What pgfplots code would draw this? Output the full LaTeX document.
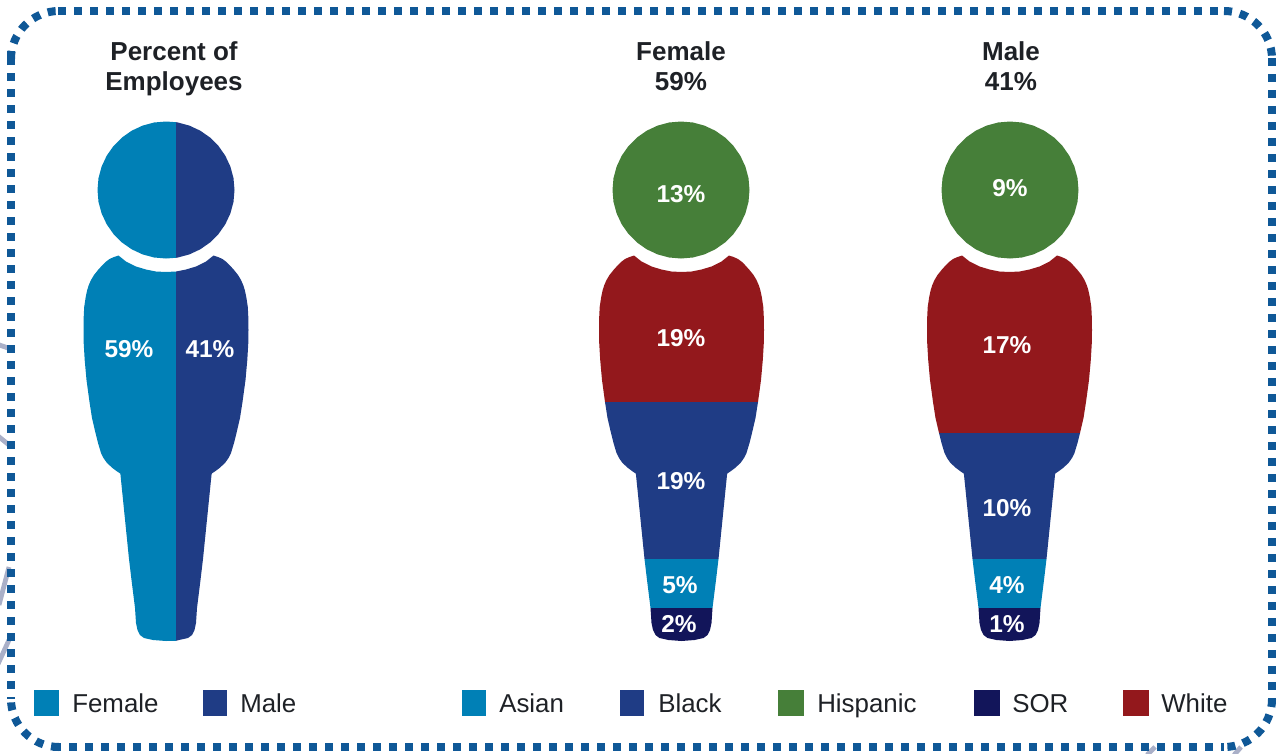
\documentclass[border=0pt]{standalone}
\usepackage{pgfplots}
\usepackage{pgfplotstable}
\usepackage{fontspec}
\setmainfont{Liberation Sans}
\pgfplotsset{compat=1.18}
\definecolor{cAsian}{HTML}{0080B6}
\definecolor{cBlack}{HTML}{1F3C85}
\definecolor{cHisp}{HTML}{467F39}
\definecolor{cSOR}{HTML}{12155A}
\definecolor{cWhite}{HTML}{93181C}
\definecolor{cFrame}{HTML}{0F5897}
\definecolor{cStub}{HTML}{AAB0C8}
\definecolor{cText}{HTML}{1E2126}
\tikzset{
  val/.style={font=\fontsize{18.3}{20}\selectfont\bfseries,text=white,inner sep=0pt},
  ttl/.style={font=\fontsize{19.5}{22}\selectfont\bfseries,text=cText,inner sep=0pt,anchor=base},
  leg/.style={font=\fontsize{19.4}{22}\selectfont,text=cText,inner sep=0pt,anchor=base west},
  frm/.style={cFrame,line width=6pt,dash pattern=on 6pt off 6pt},
}
\pgfplotstableread{
h y
10 -67.8
0 -68.5
-11.9 -67.5
-23.4 -64.4
-34.3 -59.3
-44.0 -52.5
-52.5 -44.0
-59.3 -34.3
-64.4 -23.4
-67.5 -11.9
-68.5 0
-67.5 11.9
-64.4 23.4
-59.3 34.3
-52.5 44.0
-44.0 52.5
-34.3 59.3
-23.4 64.4
-11.9 67.5
0 68.5
10 67.8
}\headL
\pgfplotstableread{
h y
10 -67.8
11.9 -67.5
23.4 -64.4
34.3 -59.3
44.0 -52.5
52.5 -44.0
59.3 -34.3
64.4 -23.4
67.5 -11.9
68.5 0
67.5 11.9
64.4 23.4
59.3 34.3
52.5 44.0
44.0 52.5
34.3 59.3
23.4 64.4
11.9 67.5
10 67.8
}\headR
\pgfplotstableread{
h y
10 271.5
0 272
-10 271.5
-20 269.5
-30 266.5
-40 261.5
-47.5 255.5
-52 257
-56.5 259
-60.5 262
-63.5 265
-68 270
-72 275
-75 280
-77.2 285
-78.8 290
-80.3 297
-81.8 307
-82.3 317
-82.5 330
-82.3 343
-81.3 360
-79.5 380
-76.5 402
-74 418
-70.5 433
-68 443
-65 453
-62.5 458
-59 463
-53.5 468
-49.5 471
-45.8 473.5
-45.5 475
-37 559
-34.5 580
-31 608
-30 623
-28.5 630
-26 635
-22 638
-13 640
0 641
10 640.8
}\bodyL
\pgfplotstableread{
h y
10 271.5
20 269.5
30 266.5
40 261.5
47.5 255.5
52 257
56.5 259
60.5 262
63.5 265
68 270
72 275
75 280
77.2 285
78.8 290
80.3 297
81.8 307
82.3 317
82.5 330
82.3 343
81.3 360
79.5 380
76.5 402
74 418
70.5 433
68 443
65 453
62.5 458
59 463
53.5 468
49.5 471
45.8 473.5
45.5 475
37 559
34.5 580
31 608
30 623
28.5 630
26 635
22 638
13 640
10 640.8
}\bodyR
\pgfplotstableread{
h y
-47.5 255.5
-40 261.5
-30 266.5
-20 269.5
-10 271.5
0 272
10 271.5
20 269.5
30 266.5
40 261.5
47.5 255.5
52 257
56.5 259
60.5 262
63.5 265
68 270
72 275
75 280
77.2 285
78.8 290
80.3 297
81.8 307
82.3 317
82.5 330
82.3 343
81.3 360
79.5 380
76.5 402
-76.5 402
-79.5 380
-81.3 360
-82.3 343
-82.5 330
-82.3 317
-81.8 307
-80.3 297
-78.8 290
-77.2 285
-75 280
-72 275
-68 270
-63.5 265
-60.5 262
-56.5 259
-52 257
}\whiteF
\pgfplotstableread{
h y
-76.5 402
76.5 402
74 418
70.5 433
68 443
65 453
62.5 458
59 463
53.5 468
49.5 471
45.8 473.5
45.5 475
37 559
-37 559
-45.5 475
-45.8 473.5
-49.5 471
-53.5 468
-59 463
-62.5 458
-65 453
-68 443
-70.5 433
-74 418
}\blackF
\pgfplotstableread{
h y
-47.5 255.5
-40 261.5
-30 266.5
-20 269.5
-10 271.5
0 272
10 271.5
20 269.5
30 266.5
40 261.5
47.5 255.5
52 257
56.5 259
60.5 262
63.5 265
68 270
72 275
75 280
77.2 285
78.8 290
80.3 297
81.8 307
82.3 317
82.5 330
82.3 343
81.3 360
79.5 380
76.5 402
74 418
70.5 433
-70.5 433
-74 418
-76.5 402
-79.5 380
-81.3 360
-82.3 343
-82.5 330
-82.3 317
-81.8 307
-80.3 297
-78.8 290
-77.2 285
-75 280
-72 275
-68 270
-63.5 265
-60.5 262
-56.5 259
-52 257
}\whiteM
\pgfplotstableread{
h y
-70.5 433
70.5 433
68 443
65 453
62.5 458
59 463
53.5 468
49.5 471
45.8 473.5
45.5 475
37 559
-37 559
-45.5 475
-45.8 473.5
-49.5 471
-53.5 468
-59 463
-62.5 458
-65 453
-68 443
}\blackM
\pgfplotstableread{
h y
-37 559
37 559
34.5 580
31 608
-31 608
-34.5 580
}\asianSeg
\pgfplotstableread{
h y
-31 608
31 608
30 623
28.5 630
26 635
22 638
13 640
0 641
-13 640
-22 638
-26 635
-28.5 630
-30 623
}\sorSeg
\pgfplotstableread{
h y
0 -68.5
11.9 -67.5
23.4 -64.4
34.3 -59.3
44.0 -52.5
52.5 -44.0
59.3 -34.3
64.4 -23.4
67.5 -11.9
68.5 0
67.5 11.9
64.4 23.4
59.3 34.3
52.5 44.0
44.0 52.5
34.3 59.3
23.4 64.4
11.9 67.5
0 68.5
-11.9 67.5
-23.4 64.4
-34.3 59.3
-44.0 52.5
-52.5 44.0
-59.3 34.3
-64.4 23.4
-67.5 11.9
-68.5 0
-67.5 -11.9
-64.4 -23.4
-59.3 -34.3
-52.5 -44.0
-44.0 -52.5
-34.3 -59.3
-23.4 -64.4
-11.9 -67.5
}\headFull
\newcommand{\seg}[3]{\addplot[fill=#1,draw=none,forget plot] table[x expr=\thisrow{h}+#2,y=y]{#3};}
\newcommand{\headseg}[3]{\addplot[fill=#1,draw=none,forget plot] table[x expr=\thisrow{h}+#2,y expr=\thisrow{y}+190]{#3};}
\newcommand{\swatch}[3]{\addplot[fill=#1,draw=none,forget plot] coordinates {(#2,690) (#3,690) (#3,715.5) (#2,715.5)};}
\newcommand{\stub}[4]{\addplot[cStub,line width=3.6pt,forget plot] coordinates {(#1,#2) (#3,#4)};}
\begin{document}
\begin{tikzpicture}
\useasboundingbox (0,0) rectangle (957.75pt,564.75pt);
\begin{axis}[
  at={(0,0)},anchor=south west,
  width=957.75pt,height=564.75pt,scale only axis,
  xmin=0,xmax=1277,ymin=0,ymax=753,y dir=reverse,
  hide axis,clip=true,
]
\stub{-2}{344.5}{8}{348}
\stub{-2}{436}{9}{445}
\stub{-1}{605}{9}{567}
\stub{-2}{664}{9}{640}
\stub{1147}{755}{1155}{747}
\stub{1234}{755}{1241}{747}
\headseg{cAsian}{166}{\headL}
\headseg{cBlack}{166}{\headR}
\seg{cAsian}{166}{\bodyL}
\seg{cBlack}{166}{\bodyR}
\headseg{cHisp}{681}{\headFull}
\seg{cWhite}{681.5}{\whiteF}
\seg{cBlack}{681.5}{\blackF}
\seg{cAsian}{681.5}{\asianSeg}
\seg{cSOR}{681.5}{\sorSeg}
\headseg{cHisp}{1010}{\headFull}
\seg{cWhite}{1009.5}{\whiteM}
\seg{cBlack}{1009.5}{\blackM}
\seg{cAsian}{1009.5}{\asianSeg}
\seg{cSOR}{1009.5}{\sorSeg}
\swatch{cAsian}{33.5}{59}
\swatch{cBlack}{203}{227}
\swatch{cAsian}{462}{486}
\swatch{cBlack}{620}{644}
\swatch{cHisp}{778}{804}
\swatch{cSOR}{974}{1000}
\swatch{cWhite}{1123}{1149}
\draw[frm] (axis cs:58,11) -- (axis cs:1224,11);
\draw[frm] (axis cs:1224,11) arc[start angle=90,end angle=0,radius=36pt];
\draw[frm] (axis cs:1272,58) -- (axis cs:1272,699);
\draw[frm] (axis cs:1272,699) arc[start angle=0,end angle=-90,radius=36pt];
\draw[frm] (axis cs:53,747) -- (axis cs:1224,747);
\draw[frm] (axis cs:59,747) arc[start angle=270,end angle=180,radius=36pt];
\draw[frm] (axis cs:11,73) -- (axis cs:11,699);
\draw[frm] (axis cs:11,59) arc[start angle=180,end angle=90,radius=36pt];
\draw[cFrame,line width=6pt] (axis cs:11,65) -- (axis cs:11,51);
\node[val] at (axis cs:129,349) {59\%};
\node[val] at (axis cs:210,349) {41\%};
\node[val] at (axis cs:681,194) {13\%};
\node[val] at (axis cs:1010,188) {9\%};
\node[val] at (axis cs:681,338) {19\%};
\node[val] at (axis cs:1007,345) {17\%};
\node[val] at (axis cs:681,481) {19\%};
\node[val] at (axis cs:1007,508) {10\%};
\node[val] at (axis cs:680,585) {5\%};
\node[val] at (axis cs:1007,585) {4\%};
\node[val] at (axis cs:679,624) {2\%};
\node[val] at (axis cs:1007,624) {1\%};
\node[ttl] at (axis cs:174,60.5) {Percent of};
\node[ttl] at (axis cs:174,90.5) {Employees};
\node[ttl] at (axis cs:681,60.5) {Female};
\node[ttl] at (axis cs:681,90.5) {59\%};
\node[ttl] at (axis cs:1011,60.5) {Male};
\node[ttl] at (axis cs:1011,90.5) {41\%};
\node[leg] at (axis cs:72,712) {Female};
\node[leg] at (axis cs:240,712) {Male};
\node[leg] at (axis cs:499,712) {Asian};
\node[leg] at (axis cs:658,712) {Black};
\node[leg] at (axis cs:817,712) {Hispanic};
\node[leg] at (axis cs:1012,712) {SOR};
\node[leg] at (axis cs:1161,712) {White};
\end{axis}
\end{tikzpicture}
\end{document}
